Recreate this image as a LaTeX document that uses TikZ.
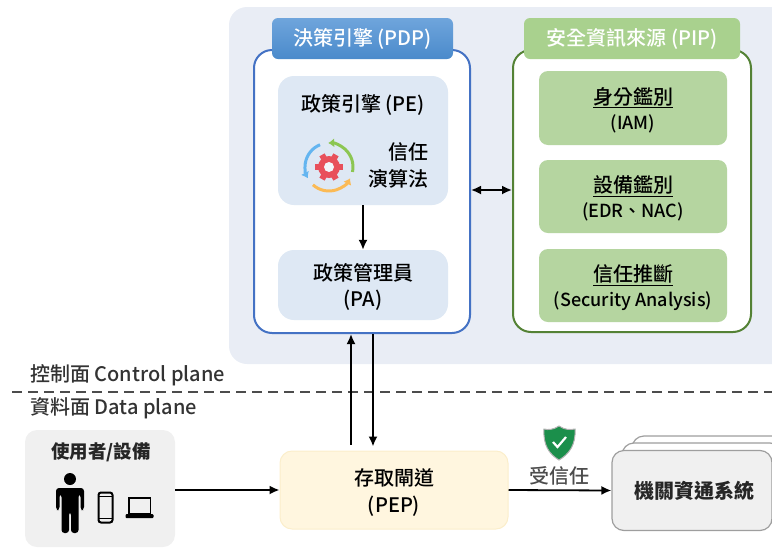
\documentclass[tikz,border=0pt]{standalone}
\usepackage{fontspec}
\setmainfont{Noto Sans CJK TC}[UprightFont={* Medium}]
\usetikzlibrary{calc,positioning,arrows.meta}

\definecolor{planebg}{HTML}{E9EDF5}
\definecolor{pdpline}{HTML}{4472C4}
\definecolor{pdptop}{HTML}{6FA5DC}
\definecolor{pdpbottom}{HTML}{4A8ACB}
\definecolor{pipline}{HTML}{548235}
\definecolor{pipfill}{HTML}{A9D18E}
\definecolor{pipcard}{HTML}{B5D5A0}
\definecolor{pecard}{HTML}{DEE8F4}
\definecolor{pepfill}{HTML}{FFF6DF}
\definecolor{pepline}{HTML}{FBEECB}
\definecolor{greycard}{HTML}{F0F0F0}
\definecolor{inktext}{HTML}{262626}
\definecolor{gearred}{HTML}{E8505B}
\definecolor{arcgreen}{HTML}{8CC652}
\definecolor{arcblue}{HTML}{64B5F0}
\definecolor{arcorange}{HTML}{FBBA55}
\definecolor{shieldgreen}{HTML}{1B8F4B}

\newcommand{\lowerline}{\rule{0pt}{21.5pt}}

\tikzset{
  panel/.style={draw,line width=2pt,fill=white,rounded corners=18pt,minimum width=#1},
  cardpe/.style={fill=pecard,rounded corners=16pt,minimum width=170pt,text=black,align=center,font=\fontsize{20}{26}\selectfont},
  cardpip/.style={fill=pipcard,rounded corners=9pt,minimum width=188pt,minimum height=74pt,align=center,font=\fontsize{20}{25}\selectfont},
  flow/.style={-{Latex[length=10pt,width=9pt]},line width=1.8pt},
  sysbox/.style={draw=black!38,line width=1.2pt,rounded corners=12pt,minimum width=160pt,minimum height=80pt},
  iconarc/.style={line width=3pt,-{Latex[length=6pt,width=9pt]}}
}

\begin{document}
\begin{tikzpicture}[x=1pt,y=-1pt]
  \useasboundingbox (0,0) rectangle (772,547);
  \clip (0,0) rectangle (772,547);

  % control plane background
  \fill[planebg,rounded corners=18pt] (229,7) rectangle (800,364);

  % PDP
  \node[panel=216pt,draw=pdpline,minimum height=283pt] (pdp) at (362,191.5) {};
  \node[rounded corners=6pt,top color=pdptop,bottom color=pdpbottom,
    minimum width=181pt,minimum height=41pt,text=white,font=\fontsize{20}{26}\selectfont] (pdptitle) at (362.5,38.5) {決策引擎 (PDP)};
  \node[cardpe,minimum height=129pt] (pe) at (363,140.5) {};
  \node[font=\fontsize{20}{26}\selectfont] (petitle) at (363,105) {政策引擎 (PE)};
  \node[align=right,anchor=east,inner sep=0pt,font=\fontsize{20}{27}\selectfont] (trust) at (429,165) {信任\\演算法};
  \node[cardpe,minimum height=70pt] (pa) at (363,285) {\lowerline 政策管理員\\(PA)};

  % trust algorithm icon
  \begin{scope}[shift={(329,167)},y=1pt]
    \foreach \a in {0,60,...,300}
      \draw[line width=6pt,draw=gearred] (\a:8) -- (\a:14);
    \fill[gearred] (0,0) circle (11);
    \fill[pecard!40!white] (0,0) circle (5);
    \draw[iconarc,draw=arcgreen] (-12:24) arc (-12:92:24);
    \draw[iconarc,draw=arcblue] (112:24) arc (112:208:24);
    \draw[iconarc,draw=arcorange] (228:24) arc (228:332:24);
  \end{scope}

  % PIP
  \node[panel=238pt,draw=pipline,minimum height=282pt] (pip) at (632,191) {};
  \node[fill=pipfill,rounded corners=6pt,minimum width=216pt,minimum height=41pt,text=white,font=\fontsize{20}{26}\selectfont] (piptitle) at (632,38.5) {安全資訊來源 (PIP)};
  \node[cardpip] (iam) at (633,108) {\lowerline\underline{身分鑑別}\\{\fontsize{18}{25}\selectfont(IAM)}};
  \node[cardpip,minimum height=73pt] (edr) at (633,196.5) {\lowerline\underline{設備鑑別}\\{\fontsize{18}{25}\selectfont(EDR、NAC)}};
  \node[cardpip,minimum height=73pt] (sec) at (633,285.5) {\lowerline\underline{信任推斷}\\{\fontsize{18}{25}\selectfont(Security Analysis)}};

  \draw[flow] (pe.south) -- (pa.north);
  \draw[{Latex[length=10pt,width=9pt]}-{Latex[length=10pt,width=9pt]},line width=1.8pt] (pdp.east |- 0,190) -- (pip.west |- 0,190);

  % plane split
  \draw[dash pattern=on 10pt off 6pt,line width=2pt,draw=black!70] (12,392) coordinate (splitl) -- (772,392) coordinate (splitr);
  \node[anchor=west,inner sep=0pt,text=black!80,font=\fontsize{20}{26}\selectfont] (ctrl) at (30,375) {控制面 Control plane};
  \node[anchor=west,inner sep=0pt,text=black!80,font=\fontsize{20}{26}\selectfont] (data) at (30,408) {資料面 Data plane};

  % data plane
  \node[fill=greycard,rounded corners=12pt,minimum width=150pt,minimum height=117pt] (user) at (100,488.5) {};
  \node[text=inktext,font=\fontsize{18.5}{22}\selectfont\bfseries] (usertitle) at (101,452) {使用者/設備};
  \node[fill=pepfill,draw=pepline,line width=1pt,rounded corners=12pt,minimum width=228pt,minimum height=78pt,align=center,
    font=\fontsize{20}{27}\selectfont] (pep) at (394,490) {\lowerline 存取閘道\\(PEP)};
  \node[sysbox,fill=white] (sysc) at (712,476) {};
  \node[sysbox,fill=white] (sysb) at (702,483) {};
  \node[sysbox,fill=greycard,text=inktext,font=\fontsize{20}{24}\selectfont\bfseries] (sysa) at (692,490.5) {\hspace*{4pt}機關資通系統};

  % person, phone, laptop
  \fill (70,479) circle (6);
  \fill[rounded corners=3pt] (56,488) -- (84,488) -- (84,510) -- (80.5,510) -- (80.5,494) -- (78.5,494) -- (78.5,533) -- (71,533) -- (71,512) -- (69,512) -- (69,533) -- (61.5,533) -- (61.5,494) -- (59.5,494) -- (59.5,510) -- (56,510) -- cycle;
  \draw[line width=2pt,rounded corners=2.5pt] (98.5,492.5) rectangle (112.5,522.5);
  \draw[line width=1.4pt] (99,496.5) -- (112,496.5) (99,518.5) -- (112,518.5);
  \draw[line width=1.5pt] (129,498) rectangle (150.5,514);
  \fill[rounded corners=1pt] (125.5,514) rectangle (153.5,518);

  \draw[flow] (user.east |- 0,490) -- (pep.west);
  \draw[flow] (pep.east) -- node[above=1pt,text=black!70,font=\fontsize{20}{26}\selectfont] (trusted) {受信任} (sysa.west);
  \draw[flow] ($(pep.north)+(-43,-6)$) -- ($(pdp.south)+(-11,0)$);
  \draw[flow] ($(pdp.south)+(11,0)$) -- ($(pep.north)+(-21,-4)$);

  % shield
  \draw[line width=1pt,draw=black!30,fill=shieldgreen] (559,426) .. controls (553,430) and (548,430) .. (544,429) .. controls (543,445) and (549,454) .. (559,460) .. controls (569,454) and (576,445) .. (575,429) .. controls (570,430) and (565,430) .. (559,426) -- cycle;
  \draw[white,line width=2.2pt] (553,442) -- (557.5,447) -- (566,437);
\end{tikzpicture}
\end{document}
